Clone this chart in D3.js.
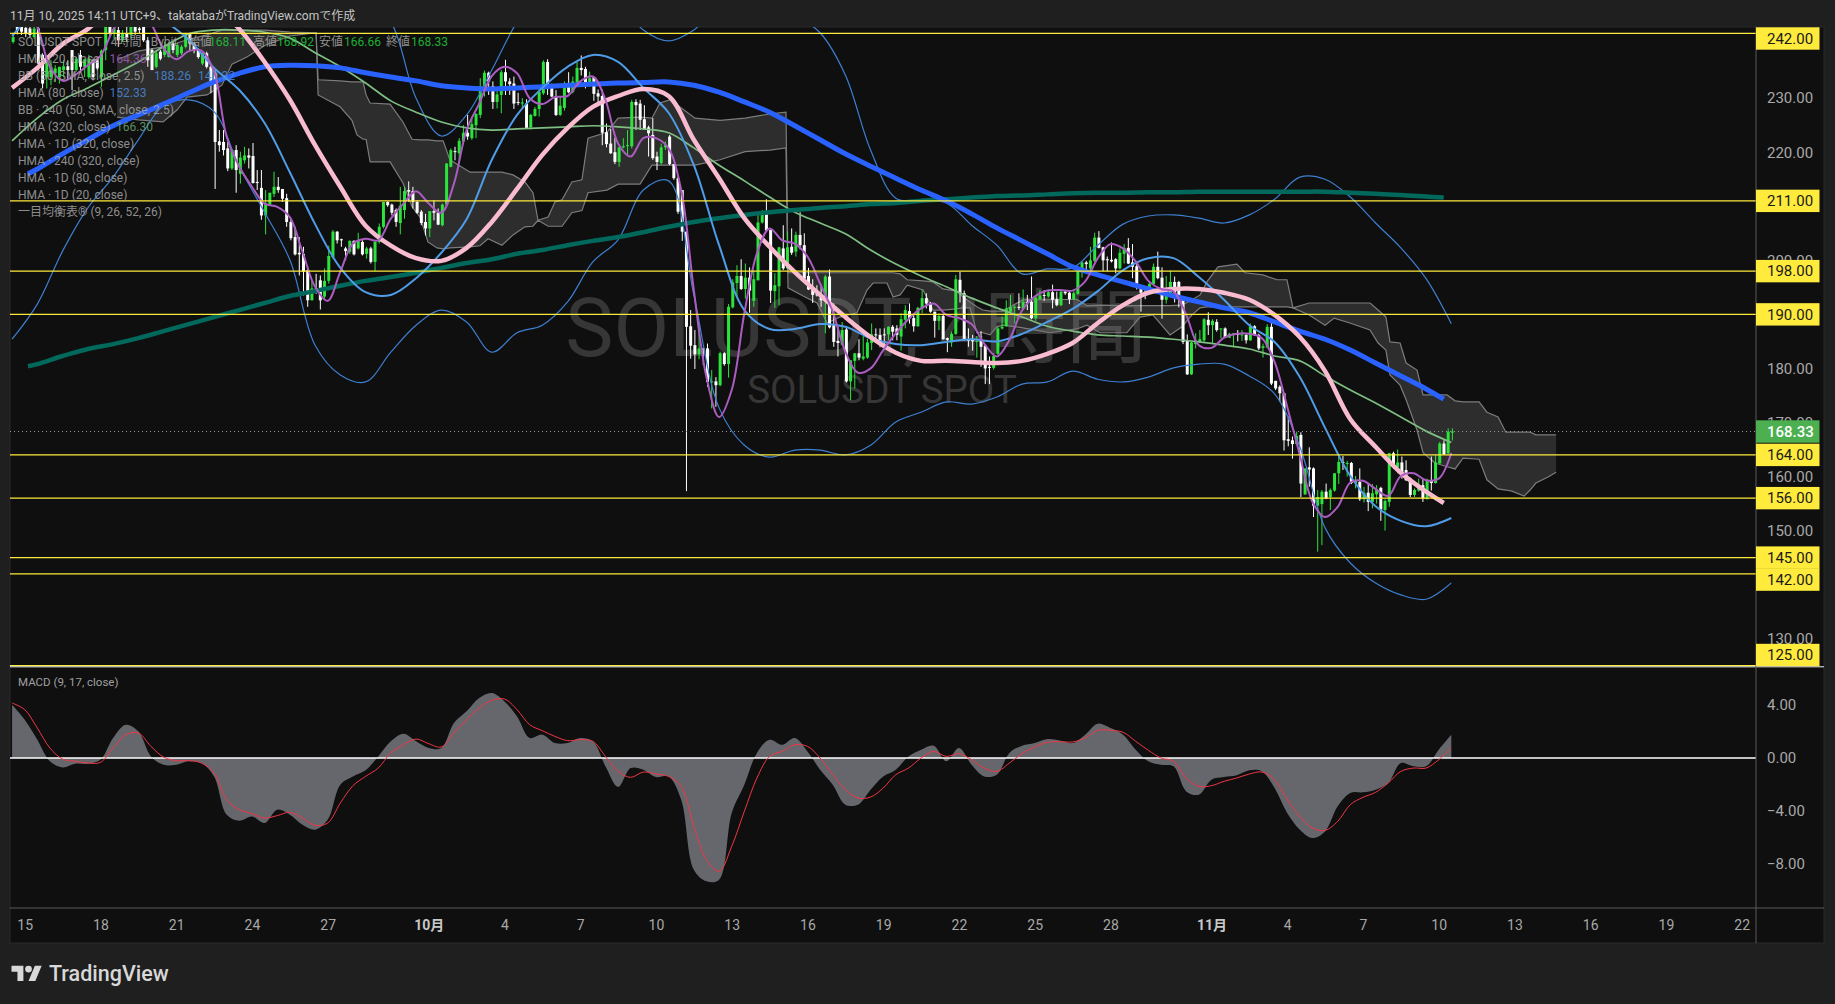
<!DOCTYPE html>
<html><head><meta charset="utf-8">
<script src="https://cdn.jsdelivr.net/npm/d3@7/dist/d3.min.js"></script>
<style>html,body{margin:0;padding:0;background:#1f1f1f;overflow:hidden}svg{display:block}
text{font-family:Roboto,"Noto Sans CJK JP",sans-serif}</style></head><body>
<script>
// ---- tick labels ----
const timeTickDays=[0,3,6,9,12,16,19,22,25,28,31,34,37,40,43,47,50,53,56,59,62,65,68];
const timeTickLabels=["15","18","21","24","27","10月","4","7","10","13","16","19","22","25","28","11月","4","7","10","13","16","19","22"];
const priceTicks=[230,220,200,180,170,160,150,130];
const macdTicks=[4,0,-4,-8];
const levels=[242,211,198,190,164,156,145,142,125];
const lastClose=168.33;
// ---- candles (4h) ----
const opens=[240.4,243.5,243.2,243,242.9,241.3,242.9,238,233.9,233.9,
234.6,233.9,235.2,235.9,238.9,235.2,238,235.8,233.9,237,
237,233.9,238.9,243.2,242,242.6,240.7,242,241.7,243.2,
242.9,243.2,240.7,238.9,235.8,238.6,238,237.6,240.1,238,
238.3,239.5,242,240.1,238.9,236.4,238.3,235.8,234.6,222,
221.9,220.7,217,220.4,216,218.5,219.4,219.3,214.5,213.4,
208.3,210.3,212.3,213.6,213.2,211.5,207.1,204.3,201.4,201.2,
198.2,192.6,194.8,196.3,193.3,196.2,200.6,205.3,203.9,202.2,
201.6,203.6,202.2,203.4,201.2,202.2,199.7,203.4,206.2,210.8,
210.3,209.3,206.9,209.3,213,212.8,210.8,209,207.1,205.9,
209.1,208.8,206.5,210.3,217.3,220.2,219.8,222,223.6,222.6,
225,226.9,232.1,234.7,232.2,229.3,230.6,234.8,233.1,232.7,
229.3,229,229,224.6,226.7,228,230.9,236.7,232.5,230.3,
226.9,228.2,232.3,231.2,232.9,235.6,235.4,232.3,233.9,230.9,
230.4,223.7,221.6,220,218.2,220.9,221.2,221.1,229.3,229,
226.1,224.6,223.2,219.2,218,220.9,222.9,217.8,215.2,213,
205.3,187.8,184.3,182.6,183.7,183.7,177.5,177.6,176.9,182.8,
180.8,191.3,195.8,197.1,194.7,196.8,192.5,196.3,207,208.8,
205.6,194.3,195.2,202.2,198.5,202.5,201.6,204.7,202.8,197.1,
194.9,193.7,193.6,192.6,197,188,185.1,184.4,187.2,177.6,
181.4,182.8,181.8,182,184.7,186.3,186.2,186.3,186.3,187.7,
187.4,185.9,189,190.6,189.3,187.8,191.1,193,192,190.5,
188.8,189.7,185.6,184.8,186.4,196.4,193.9,185.4,185.3,185,
185.1,184.2,180.3,180.1,182.7,187.4,187.8,190.5,191.3,191.4,
191.1,192.3,192.3,189.3,192.8,193.6,193.3,194.1,192.8,191.7,
194.2,194,192.8,193.8,197.8,199.6,198.5,199.9,204.2,202.4,
200.2,200.1,200.2,198.5,201.2,202.3,199.6,198.9,195.4,194.2,
193.9,195.6,198.8,196.8,192.7,193.8,196,196,193.1,185.2,
178.9,184.5,184.9,185.2,189,188,188.6,187.3,187.4,185.7,
186.4,186.5,186.1,186.2,185.2,187.8,186.2,183.8,183.9,187.7,
177.7,176.6,175.4,166.9,166.7,166,167.7,156.7,161.7,161.5,
154.6,154.9,157.2,156.2,157.4,160.6,162.7,162.4,162.5,158.8,
159,155.8,157,155.3,156.7,157.9,153.8,155.3,164.3,161.7,
162.6,161.2,159.6,156.6,157.4,158.4,155.8,159.3,158.8,162.4,
166.1,164.3,168.11];
const closes=[241.3,242.5,242.3,242,241.7,242.9,236.4,232.7,237.3,235.8,
235.5,235.8,235.9,235.2,235.2,237.3,235.8,237.2,237.3,233.9,
235.5,238.8,243.2,242,242.9,240.7,242,241.3,243.2,242.3,
242.6,240.7,237,235.2,238.3,237.3,239.5,239.8,238.9,239.8,
239.5,242,240.1,238.9,237.6,238.3,235.8,232.7,221.9,221.3,
220.4,217,220.4,216.7,219,219.4,219,214.3,214.3,208.3,
210.5,212.5,213.6,213,211.4,207.1,204.1,201.1,201.1,197.9,
192.6,194.8,194.6,192.6,196.2,200.8,205.3,203.7,203.7,201.7,
203.6,201.1,203.6,201.1,202.2,199.7,203.4,206.2,210.8,210.2,
208.8,207.1,210.1,212.8,212.7,210.8,208.8,206.9,205.9,209.1,
208.8,206.6,210.3,217.9,220.4,220.1,222.1,223.6,222.9,225.2,
227.1,232.2,234.7,233.1,229.3,230.7,234.8,233.1,232.6,229,
229.1,229.2,224.5,226.9,228,231.1,236.7,232.4,230.3,226.9,
228.6,232.3,231.1,233.1,235.6,235.2,232.3,233.7,230.8,230.3,
223.6,221.5,219.8,218.2,220.9,221.1,221.3,229.3,228.7,226,
224.2,223.5,218.9,218.2,220.9,221.3,217.8,215.2,209,205.3,
187.7,184.2,182.6,183.7,183.5,177.5,177.6,176.9,182.8,180.8,
191.4,195.9,197.1,194.7,196.8,194.4,196.5,207,208.8,205.5,
194.4,195.4,202.4,198.5,202.4,201.4,204.7,202.8,196.6,194.6,
193.6,193.5,192.6,197,187.6,184.9,184.7,187.1,177.6,181.5,
182.8,182,182.2,184.8,186.3,186.2,184.7,186.2,187.7,186.8,
186.2,189.1,190.8,189.3,187.8,191.2,193,192,190.5,188.8,
189.7,185.4,185.3,186.4,196.5,193.9,185.3,185.1,185,185.1,
184,180,180.1,182.3,187.4,187.7,191.1,191.3,191.4,191.2,
192.3,192.2,189.3,193.1,193.5,193.5,194.1,192.7,191.7,194.2,
193.9,192.8,193.9,197.9,199.6,199.3,200,204.2,202.3,200,
200,199.8,198.5,201.4,202.3,199.4,198.8,195.2,194,193.8,
195.6,198.8,196.7,192.7,194,196,193.9,193.1,184.9,178.9,
184.8,185.2,185.4,189.1,188,188.8,187.1,187.4,185.7,186.4,
186.5,186.2,186.3,185.2,187.8,186.2,183.7,184.1,187.7,177.2,
176.3,175.4,166.7,166.6,166,167.5,158.7,161.5,161.3,154.6,
156.2,157.2,155.9,157.5,160.6,162.7,162.5,162.5,158.8,159.3,
155.8,157,155.3,156.9,157.5,153.9,155.5,164.3,161.8,162.6,
160.1,159.3,156.6,157.5,158.4,155.9,159.3,158.8,162.6,166.1,
164.1,168.3,168.33];
const highs=[241.7,244.4,244.1,243.8,243.8,244.1,244.4,238.3,238,237,
236.1,235.8,237,237,238.9,237.6,238.9,237.3,238,237.3,
237.6,239,243.8,244.1,243.8,243.2,242.6,243.2,244.1,244.1,
243.8,244.1,241.3,239.2,238.9,238.9,240.4,240.4,240.4,240.2,
239.8,242.1,242.1,240.4,239.2,238.4,238.6,236.1,235.2,224.1,
224.1,221.9,220.5,221.3,220.1,221,220.7,221.7,216.7,216.7,
213,212.5,216.4,215.4,213.2,212.3,207.7,206.2,204.3,202.5,
198.8,196.3,197.5,197.2,198.5,202.7,205.6,205.4,204,202.5,
203.7,203.7,205.1,203.7,202.5,202.5,203.7,206.8,210.8,210.9,
210.5,209.6,213.6,213.6,214.6,213.6,211.1,209.3,208.6,209.1,
211.1,209.6,210.5,218,220.7,221,222.6,225,226.9,226.6,
227.2,233.7,235.1,234.9,233.1,231.5,235.2,237.1,233.7,234,
231,230,229.8,227.1,228.4,232.2,237,237.2,232.7,231.5,
230.3,233.1,234.8,234,236.7,237.9,235.8,234.9,234,231.6,
231.6,225.3,224.3,222.7,221,222.6,224.1,229.7,229.8,229.7,
228.7,224.9,226.3,220.1,221.6,222,223.2,217.8,215.8,213,
205.3,190.8,187.1,188.3,183.7,184.6,179.7,178.4,183.1,183,
191.9,196.5,199.1,200.2,199.4,198.7,198.2,208.7,209.3,211.3,
205.7,197.6,202.5,206.5,205.3,205.9,205.3,208.9,205,198.6,
196.5,195.4,195.5,197.3,198.3,192,187.7,188.6,187.7,181.5,
182.8,185.4,186,185.5,188.3,187.4,187.4,187.4,187.8,188,
188,190.2,191.7,192,189.9,191.4,194.5,193.9,192.3,190.5,
190.2,190.1,185.7,186.8,197.3,197.9,194.4,187.4,186.2,186,
186.9,184.3,182.2,182.8,187.7,189.6,192.6,193.6,191.7,193.9,
194.6,193.6,197,193.3,194.5,194.5,194.6,195.5,194.2,194.6,
194.5,194.2,194.2,198.2,199.8,199.9,202.5,205.1,205.4,202.5,
200.7,203.3,200.4,202.2,203,204.1,203,199.8,195.4,195.2,
196,199.4,201.6,198.7,197.1,198.1,197,196.2,193.3,186.3,
184.9,186.5,187.1,189.3,190.4,189.1,189.1,187.4,187.6,186.6,
186.5,187.1,187.1,186.5,188.3,188,186.4,184.6,188.2,189.1,
177.7,176.9,175.5,171.1,167.4,168.3,168.2,161.5,165.4,161.7,
157.5,157.5,158.7,157.8,160.6,164,163.8,162.9,162.7,160.1,
161.5,158.1,158.7,158.6,158.4,158.1,155.8,164.4,164.6,165,
163.7,163,159.8,157.8,159.6,159.6,159.6,163.7,164,166.4,
166.7,168.9,168.92];
const lows=[240.1,241.8,241.7,241.3,241.3,241,235.2,231.8,231.8,232.4,
233,232.7,233.9,233.6,231.5,234.9,234.9,233.9,233.6,233.3,
235.2,232.1,237,241.3,241,239.5,240.4,240.4,241,241.7,
242,240.4,235.8,235.2,235.5,237,237.6,237.5,238.3,237.6,
238,239.2,238.9,238.3,237.3,236.1,235.5,230.9,213.2,220.1,
219.4,216.5,216.7,212.5,214.2,217.9,217,214.2,213,207.5,
204.8,210.2,211.7,212.5,210.8,206.2,203.7,200.9,197.2,193.5,
191.4,192.6,193.8,190.9,192.9,195.7,200.3,203.1,202.5,200,
201.2,200.9,202,200.9,200.3,199.4,198,203.1,205.9,209.9,
208.3,206.2,204.8,207.7,210.8,209.6,208.6,206.5,204.6,204.3,
207.4,206.5,206.3,210.2,217.2,218.5,218.2,221.6,222.3,222.3,
222.6,226.3,230.3,230.6,228,228.1,227.2,230.6,230.6,228,
228.7,228.1,224.3,224.2,226.6,226.6,230.6,230.6,230.2,226.7,
226.7,227.7,230.9,230.9,232.7,234.2,231.8,232.1,229.5,228.5,
221.3,220.9,219.7,217.8,217.3,220.7,219.5,220.7,224.1,224.1,
224.1,219.2,218.6,216.7,217.7,220.4,217.6,214.9,208.6,203.6,
157.3,181.8,179.9,181.7,180.6,176.6,172.6,172.9,176.7,180.5,
178.3,191.1,193.3,194.5,192.9,190.3,191.4,196.3,206.8,205.3,
192.1,191.2,191.7,198.2,198.3,201,200.7,202,196.3,194.5,
192.1,193.3,191.4,186.5,187.4,184,182.2,184.3,177.4,174.1,
176.3,181.5,181.5,181.8,183.4,185.2,183.9,183.4,185.2,185.2,
185.2,183.3,187.4,188.3,186.8,187.7,190.2,191.1,190.3,185.7,
187.1,185.3,183,184,186.2,192.2,185.1,184,183.3,182,
180.3,177.1,177.1,179.8,182.5,187.2,187.7,190.2,188.3,190.8,
190.8,190.8,189.1,188.8,192.7,192.5,193.1,191.1,191.5,191.5,
193.6,191.9,192.7,193.6,196.8,198.2,198.2,199.7,202.2,198,
198,199.6,197.6,198.3,199.4,199.3,196.7,194.6,190.5,192.8,
193.8,195.4,196.5,189.2,192,193.1,192.2,191.3,184.5,178.8,
178.8,183.7,184.8,184.9,186.2,184.5,186.8,185.6,185.6,185.6,
183.9,185,185.1,184.6,185.1,186,183.4,182,183.7,176.9,
176,173.8,164.8,165.6,163.3,165.8,156.2,156.6,158.1,152.5,
146.1,147.3,155.8,153.8,157.2,158.6,161.2,160,158.6,157.8,
155.5,155.2,153.6,154.1,155,151.8,150,154.4,161.5,160.6,
159.6,159.2,156.2,156.2,157.2,155.3,155.8,157.4,158.7,162.4,
164,164.1,166.66];
const firstCandleDay=-0.4583;
// ---- indicators sampled every half day ----
const hma20=[250,246.9,243.2,235.8,233.2,234.3,236.1,237.8,242.6,245.7,246.3,243.8,239.2,237.2,238.7,238.8,234.9,222.8,217.3,213.6,210.5,209.9,208,201.6,195.1,192.5,197.9,203.1,204,203.7,207.7,210.5,212.8,210.5,208.8,214.2,224.1,229,234.1,235.8,234.6,230,228.9,230.2,230.4,233.1,234,229.7,221.6,219.2,222.6,222.6,220.7,213,194.5,178.4,171,176,190.2,201.3,205.9,203.7,203.1,200.7,195.7,190.5,183.1,179.2,180,183.4,186.5,189.1,191.1,192,189.9,189.3,188.2,184.6,182.2,185.3,190.7,193.3,194.4,194.5,194.4,196.1,200.4,203,202.2,199.8,196.2,194.7,194.2,189.9,184.3,183.8,185.7,186.4,186.4,185.6,181.2,172.9,164,155.3,152.5,154.4,158.9,159.2,157.7,156.4,160.1,160.6,159.3,159.6,164.36];
// ---- indicators sampled every day ----
const hma80=[241.5,246.3,249.1,251.9,251.9,248.2,244.5,240.8,235.6,231.5,225.4,216.3,206.7,198.6,194.1,193.6,196.7,201.4,207.6,218.6,226.9,231.9,235.8,238,236.7,231.9,227.3,217.6,202.8,190.8,187.3,187.3,188.2,187.7,185.6,184.5,184.3,184.9,185.4,185,186.4,188.6,191,194.3,198.2,200.4,200.4,196.9,192.7,188,184.9,178.4,169,160.1,154.5,151.8,150.8,152.33];
const bbUpper=[252,252,252,252,252,252,252,252,252,252,252,252,252,252,248.2,244.1,230,223,226.9,235.2,244.1,250,250.9,250.9,248.2,242.6,240.6,242.6,247.2,249.1,248.2,245.4,242.1,234.3,220.4,211.5,211,210.6,206.5,202.8,197.5,198.4,198.6,202.8,206.7,208.2,208.4,207.8,206.9,208.4,211.3,215.4,215,211.7,206.9,202.3,196.6,188.26];
const bbLower=[185.4,191.9,201.7,209.7,215.4,222.3,228.6,229.7,227.5,217.3,208.9,200.1,184.3,178.8,177.5,183,188,190.8,188.6,183,186.6,188,192.3,199.7,203.8,213,214.7,193.6,172.7,165.8,163.6,164.9,164.9,164,165.8,170.1,171.9,173.8,173.4,174.7,177.1,177.5,179.5,178,177.5,178.4,180.1,180.8,180.8,178.6,175.3,165.5,150.5,144,140.3,138.1,137.3,140.32];
const hma320=[222.1,226.3,229.7,231.9,234.3,236.7,239.5,241.9,242.6,242.6,242.2,241.1,238.4,235.8,232.8,229.5,227.4,225.6,224.5,224.1,224.3,224.5,224.7,224.9,224.7,224.3,223.6,220.8,217.6,214.7,211.7,208.9,206.9,204.9,201.9,199.3,197.1,195.1,193,191.2,189.5,187.8,186.9,186.2,186,185.8,185.4,184.9,184.3,183.6,182.3,181.4,178.6,176,173.6,171,168.4,166.3];
const hma240x320=[216,216.9,219.7,222.3,224.9,226.9,228.9,231,233,234.6,235.8,236.1,236,235.6,234.7,233.9,233.2,232.3,231.9,231.7,231.9,232.1,232.4,232.6,232.8,232.9,233,232.4,231.1,229.3,227.4,224.9,222.3,219.7,217.4,215.2,213,211,208.6,206,203.6,201.2,198.8,197.3,196,194.7,193.4,192.3,191.2,190.3,188.6,186.9,185.4,183.4,181,178.6,176.2,174.3];
const hma1d320=[180.4,180.8,182.3,183.6,184.5,185.6,186.9,188.2,189.5,190.8,192.1,193.4,194.3,195.3,196.2,196.9,197.7,198.6,199.5,200.2,201.2,201.9,202.8,203.6,204.3,205.2,206.2,207.1,207.8,208.4,208.9,209.3,209.7,210,210.4,210.6,211,211.3,211.6,211.9,212,212.2,212.4,212.5,212.5,212.6,212.6,212.7,212.7,212.7,212.7,212.7,212.7,212.5,212.3,212.1,211.8,211.6];
const hma1d=[231.9,235.6,240,242.8,247.2,250,251.5,250.9,247.2,242.8,236.7,229.7,221.3,213.6,206.4,202.7,200.4,199.9,202.3,207.1,213.2,219.5,224.5,228.4,230.4,231.7,230.4,222.3,215.2,207.8,202.5,197.8,193.6,189.5,185.8,182.9,181.4,181.4,181.2,181,181.4,182.7,184.7,188.4,191.7,194,194.7,194.7,194,192.7,189.9,185.8,179.5,170.6,165.5,160.7,157.2,155.1];
// ---- ichimoku cloud ----
const cloudDays=[3.66,4.49,5.48,6.03,6.43,7.22,7.81,8.21,8.8,9.52,10.51,11.54,11.62,12.49,12.96,13.16,13.4,13.52,13.68,14.47,14.98,15.34,15.66,15.97,16.33,16.57,16.84,17.64,18.03,18.35,18.9,19.34,19.81,20.13,20.33,20.73,21,21.28,21.67,22.07,22.31,23.06,23.5,24.37,24.84,25.16,25.56,26.55,27.54,28.53,29.52,30.15,30.23,30.83,31.38,31.78,32.29,32.96,33.36,33.6,34.15,34.39,34.67,34.95,35.58,35.97,36.37,36.92,37.16,37.44,37.71,37.95,38.23,38.5,38.74,39.53,40.6,41.67,42.07,42.58,43.65,44.17,44.68,45.36,45.83,46.23,46.55,46.82,47.26,48.01,48.33,49.04,49.6,49.99,50.23,50.87,51.5,51.86,52.48,53.28,53.6,53.91,54.07,54.47,54.71,55.14,55.38,55.85,56.33,56.65,56.96,57.6,57.91,58.35,58.66,58.9,59.38,59.62,59.85,60.33,60.65];
const spanA=[237.1,238.7,239.5,240.2,240.8,241.7,242.6,242.6,242.6,242.6,242.2,242.1,233.4,233.2,233,233,233,230.6,229.1,228.9,225.6,222.4,222.3,222.3,222.1,222.1,218.6,216.3,216.3,216.3,216.3,215.8,214.5,212.5,207.4,208,210.8,211.2,214.5,214.9,222.6,223.7,226.3,226.5,226.3,229.1,229.7,226.3,225.9,226.3,227.1,227.4,197.7,197.7,197.7,197.7,197.7,197.7,197.7,197.7,197.7,197.7,197.5,196.4,196.2,196,194.7,194.3,193.2,192.3,191.4,190.8,190.6,190.6,190.6,192.7,192.7,192.8,191.6,191.7,191.6,191.6,191.6,191.6,191.7,192.7,193.6,196,198.8,199.3,197.7,197.3,196.4,196.4,191.2,192.1,192.1,192.1,192.1,192.1,190.8,189.5,184.9,184.7,181,179.7,175.1,175.1,175.1,174,173.8,173.8,171.9,171,168.2,168.2,168.2,168.2,167.7,167.7,167.7];
const spanB=[226.5,226,225.6,227.8,230.2,230.6,232.4,236.3,237.6,239.8,241.5,242.1,230.6,228.4,225.9,223.2,222.4,222.4,218.2,218.2,214.3,209.9,208,203.4,202.3,202.1,202.3,202.5,202.7,204,202.8,204.7,206.2,206.3,207.4,206.3,206.3,206.3,208.8,209.2,212.5,213,214.1,214.1,217.6,217.6,217.6,217.6,218.6,220.1,220.4,220.8,194.9,193.4,192.1,188.4,189.5,190.3,194.5,195.8,195.8,193.2,193.6,195.4,194.5,190.8,190.8,191,191.2,191.2,186.6,186.6,186.2,187.7,188,187.5,186.6,187.3,188,186.6,186.6,189.5,189.9,186.2,187.7,189.9,191.2,191.4,191.4,191.4,191.4,191.4,191.4,191.4,191.2,189.9,188,189.3,188.4,187.1,184.7,183.4,178.8,176.9,174.2,168.6,164.4,162.5,161.8,161.4,163.4,163.2,159.4,157.7,157.5,157.3,156.4,157.5,158.8,159.9,160.8];
// ---- MACD sampled every half day ----
const macdLine=[4.02,2.89,1.38,-0.25,-0.71,-0.43,-0.43,-0.13,1.51,2.51,2.01,0.12,-0.51,-0.51,-0.25,-0.38,-1.39,-4.28,-4.73,-4.41,-4.91,-3.9,-4.28,-5.03,-5.41,-4.66,-2.01,-1.39,-0.93,0.12,1.26,1.83,1.26,0.75,0.75,2.64,3.52,4.53,4.9,4.27,3.14,1.51,1.76,1.13,1.13,1.51,1.26,-0.63,-2.19,-0.76,-0.88,-1.44,-1.39,-3.15,-8.43,-9.31,-9.19,-4.15,-2.01,0.38,1.38,1,1.51,0.5,-0.88,-2.01,-3.52,-3.52,-2.39,-1.39,-0.88,0.12,0.63,0.93,-0.25,0.75,-0.51,-1.39,-1.26,0.38,0.93,1.13,1.43,1.33,1.13,1.76,2.59,2.26,1.76,0.63,-0.25,-0.51,-0.63,-2.52,-2.77,-1.64,-1.44,-1.31,-0.93,-1.01,-2.27,-4.15,-5.41,-6.04,-5.54,-3.65,-2.64,-2.59,-2.39,-1.89,-0.38,-0.63,-0.63,0.63,1.76];
const macdSignal=[4.15,3.65,2.26,0.75,-0.08,-0.25,-0.38,-0.33,0.75,1.76,1.89,0.88,0.07,-0.2,-0.2,-0.38,-1.13,-3.15,-3.9,-4.2,-4.53,-4.35,-4.1,-4.53,-5.08,-4.91,-3.4,-2.09,-1.39,-0.76,0.38,1,1.43,1.08,0.83,1.89,2.89,3.77,4.35,4.45,3.65,2.51,2.06,1.63,1.31,1.38,1.26,0.12,-1.01,-1.46,-1.06,-1.21,-1.39,-2.14,-5.16,-7.68,-8.56,-6.67,-4.03,-1.51,0.12,0.5,1,0.88,0,-1.26,-2.39,-3.02,-2.95,-2.27,-1.26,-0.76,0,0.5,0.12,0.33,-0.13,-0.76,-1.01,-0.38,0.33,0.83,1.18,1.23,1.21,1.51,2.09,2.09,1.94,1.26,0.58,0,-0.25,-1.51,-2.14,-2.09,-1.76,-1.51,-1.21,-1.06,-1.64,-3.15,-4.41,-5.29,-5.46,-4.78,-3.52,-2.97,-2.59,-1.89,-1.01,-0.76,-0.76,-0.13,0.75];
// ---- legend ----
const legendRows=[
 ["HMA (20, close)"],["BB (50, SMA, close, 2.5)"],["HMA (80, close)"],["BB · 240 (50, SMA, close, 2.5)"],
 ["HMA (320, close)"],["HMA · 1D (320, close)"],["HMA · 240 (320, close)"],["HMA · 1D (80, close)"],["HMA · 1D (20, close)"],["一目均衡表® (9, 26, 52, 26)"]];
const legendValues=[[["164.36","#a25cb5"]],[["188.26","#4a8ad8"],["140.32","#4a8ad8"]],[["152.33","#4a8ad8"]],[],[["166.30","#6aa36e"]],[],[],[],[],[]];
const ohlcNames=["始値","高値","安値","終値"];
const ohlcValues=["168.11","168.92","166.66","168.33"];

// ---- layout ----
const W=1835,H=1004,L=10,R=1756,PR=1824,T=27,PB=666,MB=908,AB=943;
const svg=d3.select("body").append("svg").attr("width",W).attr("height",H);
const x=d3.scaleLinear().domain([0,68]).range([24.7,1741.7]);
const y=d3.scaleLinear().domain([242,125]).range([33.3,665.7]);
const ym=d3.scaleLinear().domain([4,-8]).range([705,864]);
const halfDays=d3.range(hma20.length).map(k=>k/2-0.5);
const dayGrid=d3.range(57).map(n=>n-0.5);
const lineDays=[...dayGrid,56.5];
const thickDays=[0.13,...dayGrid.slice(1),56.2];
const pinkDays=[...dayGrid,56.2];
const defs=svg.append("defs");
defs.append("clipPath").attr("id","cp").append("rect").attr("x",L).attr("y",T).attr("width",R-L).attr("height",PB-T);
defs.append("clipPath").attr("id","cm").append("rect").attr("x",L).attr("y",PB).attr("width",R-L).attr("height",MB-PB);
// background
svg.append("rect").attr("width",W).attr("height",H).attr("fill","#1f1f1f");
svg.append("rect").attr("x",L).attr("y",T).attr("width",PR-L).attr("height",AB-T).attr("fill","#0f0f0f").attr("stroke","#2a2a2a").attr("stroke-width",1);
svg.append("text").attr("x",L).attr("y",19.5).attr("font-size",12).attr("fill","#c4c4c4").text("11月 10, 2025 14:11 UTC+9、takatabaがTradingView.comで作成");
const p=svg.append("g").attr("clip-path","url(#cp)");
// watermark
p.append("text").attr("x",856).attr("y",356).attr("text-anchor","middle").attr("font-size",81).attr("fill","#363636").text("SOLUSDT, 4時間");
p.append("text").attr("x",882).attr("y",403).attr("text-anchor","middle").attr("font-size",38.5).attr("fill","#363636").text("SOLUSDT SPOT");
// cloud
const cloudIdx=d3.range(cloudDays.length);
p.append("path").attr("fill","rgba(255,255,255,0.125)").attr("d",d3.area().x(i=>x(cloudDays[i])).y0(i=>y(spanA[i])).y1(i=>y(spanB[i]))(cloudIdx));
[spanA,spanB].forEach(s=>p.append("path").attr("fill","none").attr("stroke","#7c7c7c").attr("stroke-width",1.2).attr("d",d3.line().x(i=>x(cloudDays[i])).y(i=>y(s[i]))(cloudIdx)));
// candles
const green="#2be33b",white="#ffffff";
const cIdx=d3.range(closes.length);
const cx=i=>x(firstCandleDay+i/6);
const col=i=>closes[i]>=opens[i]?green:white;
p.append("g").selectAll("line").data(cIdx).join("line")
 .attr("x1",cx).attr("x2",cx).attr("y1",i=>y(highs[i])).attr("y2",i=>y(lows[i])).attr("stroke",col).attr("stroke-width",1);
p.append("g").selectAll("rect").data(cIdx).join("rect")
 .attr("x",i=>cx(i)-1.5).attr("width",3)
 .attr("y",i=>y(Math.max(opens[i],closes[i])))
 .attr("height",i=>Math.max(1,Math.abs(y(opens[i])-y(closes[i])))).attr("fill",col);
// indicator lines
function drawLine(days,vals,color,w,g,sc){
 const idx=d3.range(Math.min(days.length,vals.length));
 (g||p).append("path").attr("fill","none").attr("stroke",color).attr("stroke-width",w).attr("stroke-linejoin","round")
  .attr("d",d3.line().curve(d3.curveCatmullRom.alpha(0.5)).x(i=>x(days[i])).y(i=>(sc||y)(vals[i]))(idx));
}
drawLine(lineDays,bbUpper,"#3d7fd0",1.2);
drawLine(lineDays,bbLower,"#3d7fd0",1.2);
drawLine(lineDays,hma320,"#7fbe82",1.7);
drawLine(thickDays,hma1d320,"#00695c",4.5);
drawLine(thickDays,hma240x320,"#2962ff",5);
drawLine(lineDays,hma80,"#4f9ce8",2);
drawLine(pinkDays,hma1d,"#f8bbd0",4.5);
drawLine(halfDays,hma20,"#ab5cc0",2);
// last price dotted
svg.append("line").attr("x1",L).attr("x2",R).attr("y1",y(lastClose)).attr("y2",y(lastClose)).attr("stroke","#9a9a9a").attr("stroke-width",1).attr("stroke-dasharray","1 3");
// level lines
svg.append("g").selectAll("line").data(levels).join("line")
 .attr("x1",L).attr("x2",R).attr("y1",d=>y(d)).attr("y2",d=>y(d)).attr("stroke","#ffeb3b").attr("stroke-width",1.2);
// MACD
const m=svg.append("g").attr("clip-path","url(#cm)");
const mIdx=d3.range(macdLine.length);
m.append("path").attr("fill","#65676d").attr("d",d3.area().curve(d3.curveCatmullRom.alpha(0.5)).x(i=>x(halfDays[i])).y0(ym(0)).y1(i=>ym(macdLine[i]))(mIdx));
m.append("line").attr("x1",L).attr("x2",R).attr("y1",ym(0)).attr("y2",ym(0)).attr("stroke","#fff").attr("stroke-width",1.3);
drawLine(halfDays,macdSignal,"#f23645",1,m,ym);
svg.append("text").attr("x",18).attr("y",686).attr("font-size",11.5).attr("fill","#a0a0a0").text("MACD (9, 17, close)");
// pane frames
svg.append("line").attr("x1",L).attr("x2",PR).attr("y1",666.8).attr("y2",666.8).attr("stroke","#f4f4f0").attr("stroke-width",1);
svg.append("line").attr("x1",L).attr("x2",PR).attr("y1",908).attr("y2",908).attr("stroke","#5a5a5a");
svg.append("line").attr("x1",R).attr("x2",R).attr("y1",T).attr("y2",AB).attr("stroke","#5a5a5a");
// axes
const axisColor="#a8a8a8";
const pa=svg.append("g").attr("transform",`translate(${R},0)`).call(d3.axisRight(y).tickValues(priceTicks).tickSize(0).tickPadding(11).tickFormat(d3.format(".2f")));
const ma=svg.append("g").attr("transform",`translate(${R},0)`).call(d3.axisRight(ym).tickValues(macdTicks).tickSize(0).tickPadding(11).tickFormat(d3.format(".2f")));
const ta=svg.append("g").attr("transform",`translate(0,${MB})`).call(d3.axisBottom(x).tickValues(timeTickDays).tickSize(0).tickPadding(12).tickFormat((d,i)=>timeTickLabels[i]));
[pa,ma,ta].forEach(a=>{a.select(".domain").remove();a.selectAll("text").attr("fill",axisColor).attr("font-size",15).attr("font-family",'Roboto,"Noto Sans CJK JP",sans-serif');});
ta.selectAll("text").attr("font-size",14).filter((d,i)=>/月/.test(timeTickLabels[i])).attr("font-weight",700).attr("fill","#c8c8c8");
// level labels
let prev=-100;
const tags=levels.map(v=>{let c=Math.min(Math.max(y(v),T+11.5),PB-11);if(c-prev<22)c=prev+22;prev=c;return {v,c};});
const tg=svg.append("g").selectAll("g").data(tags).join("g").attr("transform",d=>`translate(${R},${d.c})`);
tg.append("rect").attr("y",-11.2).attr("width",63.5).attr("height",22.4).attr("fill","#ffeb3b");
tg.append("text").attr("x",11).attr("dy","0.35em").attr("font-size",15).attr("fill","#1a1a1a").text(d=>d.v.toFixed(2));
const lt=svg.append("g").attr("transform",`translate(${R},${y(lastClose)})`);
lt.append("rect").attr("y",-11.2).attr("width",63.5).attr("height",22.4).attr("fill","#4caf50");
lt.append("text").attr("x",11).attr("dy","0.35em").attr("font-size",15).attr("font-weight",500).attr("fill","#fff").text(lastClose.toFixed(2));
// legend
const lg=svg.append("g").attr("font-size",12);
const head=lg.append("text").attr("x",18).attr("y",45.5).attr("fill","#a4a4a4").attr("opacity",0.85);
head.append("tspan").text("SOLUSDT SPOT · 4時間 · Bybit");
ohlcNames.forEach((n,i)=>{
 const nx=[188,253,319,386][i],vx=[209,277,344,411][i];
 head.append("tspan").attr("x",nx).text(n);
 head.append("tspan").attr("x",vx).attr("fill","#22c93a").text(ohlcValues[i]);
});
const valueX=[[109.5],[154,198],[109.5],[],[116],[],[],[],[],[]];
legendRows.forEach((r,i)=>{
 const t=lg.append("text").attr("x",18).attr("y",62.5+i*17.05).attr("fill","#a4a4a4").attr("opacity",0.85);
 t.append("tspan").text(r[0]);
 legendValues[i].forEach((v,j)=>t.append("tspan").attr("x",valueX[i][j]).attr("fill",v[1]).text(v[0]));
});
// footer
const logo=svg.append("g").attr("transform","translate(11.5,962.3) scale(0.85)").attr("fill","#d8d8d8");
logo.append("path").attr("d","M14 22H7V11H0V4h14v18zM28 22h-8l7.5-18h8L28 22z");
logo.append("circle").attr("cx",20).attr("cy",8).attr("r",4);
svg.append("text").attr("x",49).attr("y",981).attr("font-size",21.5).attr("font-weight",500).attr("fill","#d8d8d8").text("TradingView");
</script></body></html>
